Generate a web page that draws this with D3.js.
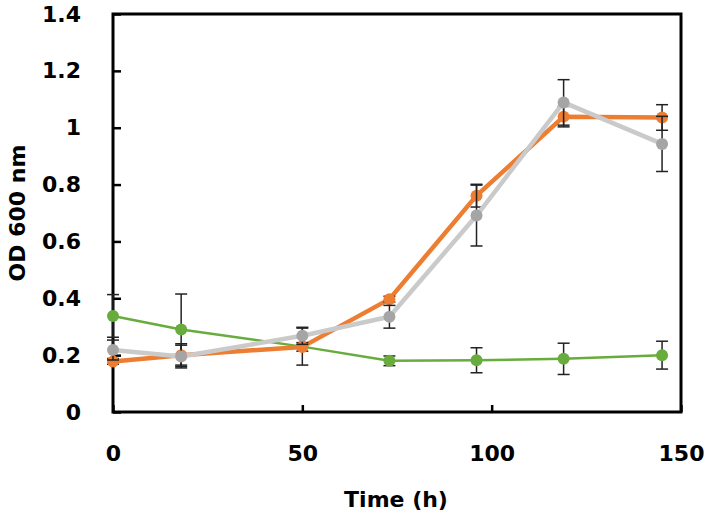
<!DOCTYPE html>
<html>
<head>
<meta charset="utf-8">
<script src="https://cdn.jsdelivr.net/npm/d3@7"></script>
<style>
  html, body { margin: 0; padding: 0; background: #fff; }
  svg { display: block; }
  text { font-family: "DejaVu Sans", sans-serif; font-weight: bold; fill: #000; }
</style>
</head>
<body>
<svg id="chart" width="709" height="519"></svg>
<script>
// ---- data ----
const times = [0, 18, 50, 73, 96, 119, 145];
const greenValues  = [0.338, 0.290, 0.230, 0.180, 0.182, 0.187, 0.200];
const greenErrors  = [0.075, 0.125, 0.065, 0.017, 0.044, 0.055, 0.049];
const orangeValues = [0.178, 0.200, 0.229, 0.397, 0.761, 1.039, 1.036];
const orangeErrors = [0.010, 0.040, 0.015, 0.010, 0.040, 0.036, 0.045];
const grayValues   = [0.218, 0.195, 0.268, 0.335, 0.691, 1.089, 0.943];
const grayErrors   = [0.035, 0.040, 0.030, 0.040, 0.107, 0.080, 0.097];
const xTicks = [0, 50, 100, 150];
const xTickLabels = ["0", "50", "100", "150"];
const yTicks = [0, 0.2, 0.4, 0.6, 0.8, 1.0, 1.2, 1.4];
const yTickLabels = ["0", "0.2", "0.4", "0.6", "0.8", "1", "1.2", "1.4"];
const xTitle = "Time (h)";
const yTitle = "OD 600 nm";

const series = [
  { name: "green",  values: greenValues,  errors: greenErrors,  line: "#67AC3D", marker: "#67AC3D", lw: 2.5 },
  { name: "orange", values: orangeValues, errors: orangeErrors, line: "#ED7D31", marker: "#ED7D31", lw: 4.5 },
  { name: "gray",   values: grayValues,   errors: grayErrors,   line: "#CACACA", marker: "#A5A5A5", lw: 4.5 }
];

// ---- layout ----
const svg = d3.select("#chart");
const mLeft = 113, mRight = 681, mTop = 14, mBottom = 412;
const x = d3.scaleLinear().domain([0, 150]).range([mLeft, mRight]);
const y = d3.scaleLinear().domain([0, 1.4]).range([mBottom, mTop]);

// y axis (ticks inward)
const yAxis = svg.append("g").attr("transform", `translate(${mLeft},0)`)
  .call(d3.axisLeft(y).tickValues(yTicks).tickSize(-8).tickPadding(32)
    .tickFormat((d, i) => yTickLabels[i]));
yAxis.select(".domain").remove();
yAxis.selectAll(".tick line").attr("stroke", "#000").attr("stroke-width", 2.5);
yAxis.selectAll(".tick text").attr("font-size", 22).attr("font-family", "DejaVu Sans").attr("font-weight", "bold").attr("fill", "#000");

// x axis (ticks inward)
const xAxis = svg.append("g").attr("transform", `translate(0,${mBottom})`)
  .call(d3.axisBottom(x).tickValues(xTicks).tickSize(-7).tickPadding(33)
    .tickFormat((d, i) => xTickLabels[i]));
xAxis.select(".domain").remove();
xAxis.selectAll(".tick line").attr("stroke", "#000").attr("stroke-width", 2.5);
xAxis.selectAll(".tick text").attr("font-size", 22).attr("font-family", "DejaVu Sans").attr("font-weight", "bold").attr("fill", "#000")
  .attr("dy", "0.36em").attr("y", 41);

// frame
svg.append("rect")
  .attr("x", mLeft).attr("y", mTop)
  .attr("width", mRight - mLeft).attr("height", mBottom - mTop)
  .attr("fill", "none").attr("stroke", "#000").attr("stroke-width", 3);

// series
const lineGen = d3.line().x((d) => x(d.t)).y((d) => y(d.v));
series.forEach((s) => {
  const pts = times.map((t, i) => ({ t, v: s.values[i], e: s.errors[i] }));
  const g = svg.append("g");
  g.append("path").datum(pts)
    .attr("d", lineGen)
    .attr("fill", "none")
    .attr("stroke", s.line)
    .attr("stroke-width", s.lw)
    .attr("stroke-linejoin", "round");
  // error bars
  const eb = g.append("g").attr("stroke", "#222").attr("stroke-width", 1.5);
  pts.forEach((p) => {
    const xp = x(p.t), y1 = y(p.v + p.e), y0 = y(p.v - p.e);
    eb.append("line").attr("x1", xp).attr("x2", xp).attr("y1", y1).attr("y2", y0);
    eb.append("line").attr("x1", xp - 6).attr("x2", xp + 6).attr("y1", y1).attr("y2", y1);
    eb.append("line").attr("x1", xp - 6).attr("x2", xp + 6).attr("y1", y0).attr("y2", y0);
  });
  g.selectAll("circle").data(pts).join("circle")
    .attr("cx", (d) => x(d.t)).attr("cy", (d) => y(d.v))
    .attr("r", 6).attr("fill", s.marker);
});

// titles
svg.append("text")
  .attr("x", 396).attr("y", 507)
  .attr("text-anchor", "middle")
  .attr("font-size", 22)
  .text(xTitle);
svg.append("text")
  .attr("transform", "translate(25,213) rotate(-90)")
  .attr("text-anchor", "middle")
  .attr("font-size", 22)
  .text(yTitle);
</script>
</body>
</html>
